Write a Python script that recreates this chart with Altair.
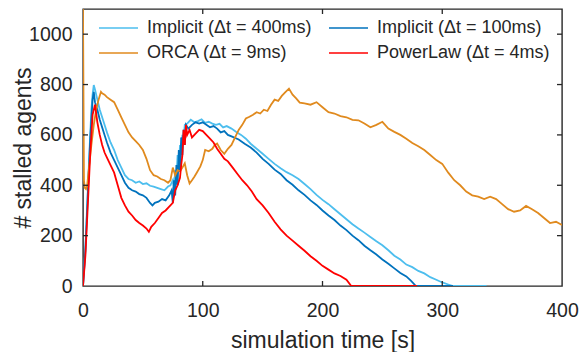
import altair as alt
import pandas as pd

# ---- data ----
series_names = ["Implicit (Δt = 400ms)", "Implicit (Δt = 100ms)", "ORCA (Δt = 9ms)", "PowerLaw (Δt = 4ms)"]
series_colors = ["#4DBEEE", "#0072BD", "#E08A1E", "#FF0000"]
# legend is filled column by column, so this order gives rows: 400/100, ORCA/PowerLaw
legend_order = [0, 2, 1, 3]

t_imp400 = [0, 2, 4, 6, 7, 8, 9, 10, 12, 14, 16, 18, 20, 23, 26, 29, 32, 35, 38, 41, 44, 47, 50, 53, 56, 59,
            62, 65, 68, 71, 73, 75, 76, 77, 78, 79, 80, 81, 82, 83, 84, 85, 87, 90, 93, 96, 99, 102, 105, 108,
            111, 114, 117, 120, 124, 128, 132, 136, 140, 145, 150, 155, 160, 165, 170, 175, 180, 185, 190, 195,
            200, 205, 210, 215, 220, 225, 230, 235, 240, 245, 250, 255, 260, 265, 270, 275, 280, 285, 290, 295,
            300, 305, 309, 337]
v_imp400 = [0, 150, 380, 600, 700, 760, 798, 780, 740, 700, 670, 640, 610, 570, 540, 500, 470, 440, 425, 420,
            410, 415, 405, 408, 398, 395, 390, 385, 380, 395, 400, 420, 380, 460, 430, 520, 470, 560, 510, 600,
            580, 640, 645, 660, 650, 655, 662, 648, 652, 645, 640, 644, 630, 635, 625, 612, 600, 585, 565, 545,
            525, 505, 485, 468, 452, 440, 425, 405, 385, 362, 342, 325, 305, 285, 265, 245, 228, 212, 195, 178,
            162, 142, 120, 105, 85, 75, 60, 50, 35, 25, 14, 6, 0, 0]

t_imp100 = [0, 2, 4, 6, 8, 9, 10, 12, 14, 16, 18, 20, 23, 26, 29, 32, 35, 38, 41, 44, 47, 50, 53, 56, 58, 60,
            63, 66, 69, 72, 74, 75, 76, 77, 78, 79, 80, 81, 82, 83, 84, 85, 86, 88, 91, 94, 97, 100, 103, 106,
            109, 112, 115, 118, 121, 125, 130, 135, 140, 145, 150, 155, 160, 165, 170, 175, 180, 185, 190, 195,
            200, 205, 210, 215, 220, 225, 230, 235, 240, 245, 250, 255, 260, 265, 270, 274, 278, 309]
v_imp100 = [0, 140, 360, 580, 740, 771, 730, 700, 660, 630, 600, 570, 530, 500, 470, 440, 410, 390, 380, 375,
            365, 360, 350, 330, 320, 330, 335, 345, 340, 360, 380, 330, 420, 360, 480, 400, 540, 460, 590, 520,
            620, 560, 640, 625, 640, 650, 645, 650, 640, 630, 635, 625, 610, 615, 600, 592, 582, 565, 550, 530,
            505, 485, 462, 445, 420, 402, 380, 362, 340, 322, 300, 280, 262, 240, 222, 200, 182, 160, 142, 125,
            105, 88, 70, 52, 38, 20, 0, 0]

t_orca = [0, 0.8, 1.5, 2.5, 3.5, 5, 7, 9, 11, 13, 15, 16, 18, 20, 23, 26, 29, 32, 35, 38, 41, 44, 47, 50, 53,
          56, 59, 62, 65, 68, 71, 73, 75, 77, 79, 81, 83, 85, 87, 89, 91, 93, 95, 98, 100, 102, 105, 108, 110,
          112, 115, 118, 121, 124, 127, 130, 133, 136, 139, 142, 145, 148, 151, 154, 157, 160, 163, 166, 169,
          172, 175, 178, 181, 185, 190, 195, 200, 205, 210, 215, 220, 225, 230, 235, 240, 245, 250, 255, 260,
          265, 270, 275, 280, 285, 290, 295, 300, 305, 310, 315, 320, 325, 330, 335, 340, 345, 350, 355, 360,
          365, 370, 375, 380, 385, 390, 395, 400]
v_orca = [1100, 420, 390, 385, 400, 470, 560, 640, 700, 740, 771, 765, 760, 750, 740, 730, 700, 670, 640, 610,
          590, 575, 560, 540, 505, 460, 440, 435, 425, 420, 410, 420, 470, 440, 460, 455, 470, 487, 440, 407,
          420, 434, 450, 475, 500, 540, 535, 545, 560, 566, 540, 525, 545, 560, 590, 620, 640, 665, 672, 680,
          690, 685, 700, 695, 720, 740, 735, 755, 770, 784, 760, 745, 728, 725, 720, 730, 710, 690, 685, 675,
          670, 660, 658, 645, 630, 640, 652, 625, 612, 600, 585, 568, 555, 540, 520, 500, 485, 450, 420, 400,
          375, 360, 355, 345, 355, 345, 325, 305, 295, 300, 318, 305, 290, 270, 250, 255, 242]

t_power = [0, 2, 4, 6, 8, 10, 12, 14, 16, 18, 20, 23, 26, 29, 32, 35, 38, 41, 44, 47, 50, 53, 55, 57, 60, 63,
           66, 69, 72, 75, 77, 79, 81, 82, 83, 84, 85, 86, 87, 89, 91, 94, 97, 100, 103, 106, 109, 112, 115,
           118, 121, 125, 129, 133, 137, 141, 145, 150, 155, 160, 165, 170, 175, 180, 185, 190, 195, 200, 205,
           210, 215, 220, 224, 279]
v_power = [0, 120, 320, 520, 680, 720, 650, 600, 560, 530, 510, 480, 450, 400, 350, 320, 295, 280, 262, 250,
           240, 228, 215, 235, 250, 270, 290, 300, 315, 330, 380, 400, 430, 480, 520, 620, 560, 640, 600, 620,
           590, 605, 620, 615, 600, 585, 570, 545, 525, 505, 495, 470, 445, 420, 400, 375, 345, 320, 290, 255,
           225, 200, 180, 160, 140, 118, 100, 80, 65, 50, 40, 25, 0, 0]

x_tick_values = [0, 100, 200, 300, 400]
y_tick_values = [0, 200, 400, 600, 800, 1000]
x_inner_ticks = [100, 200, 300]
y_inner_ticks = [200, 400, 600, 800, 1000]

frames = []
for name, ts, vs in zip(series_names, [t_imp400, t_imp100, t_orca, t_power],
                        [v_imp400, v_imp100, v_orca, v_power]):
    frames.append(pd.DataFrame({"t": ts, "v": vs, "series": name}))
df = pd.concat(frames, ignore_index=True)

W, H = 479, 277
AX = "#262626"
FONT = "Liberation Sans"

common_axis = dict(grid=False, domain=False, ticks=False, tickSize=0, format="d", labelFlush=False,
                   labelFont=FONT, labelFontSize=19.5, labelColor=AX,
                   titleFont=FONT, titleFontSize=23, titleColor=AX, titleFontWeight="normal",
                   titleBaseline="alphabetic")
xscale = alt.Scale(domain=[0, 400], nice=False, zero=False)
yscale = alt.Scale(domain=[0, 1100], nice=False, zero=False)
xaxis = alt.Axis(title="simulation time [s]", values=x_tick_values, labelPadding=15,
                 titleY=61, **common_axis)
yaxis = alt.Axis(title="# stalled agents", values=y_tick_values, labelPadding=11,
                 titleX=-53, titleY=H / 2, titleAngle=-90, **common_axis)

dom = [series_names[i] for i in legend_order]
rng = [series_colors[i] for i in legend_order]
color = alt.Color(
    "series:N",
    scale=alt.Scale(domain=dom, range=rng),
    sort=dom,
    legend=alt.Legend(
        title=None, orient="none", legendX=15, legendY=9, columns=2,
        symbolType="stroke", symbolSize=1521, symbolStrokeWidth=1.5,
        labelFontSize=18, labelFont=FONT, labelColor=AX, labelOffset=8, labelLimit=400,
        columnPadding=16, rowPadding=5, padding=0, clipHeight=20,
    ),
)

layers = []
for name in series_names:
    layers.append(
        alt.Chart(df).transform_filter(alt.datum.series == name)
        .mark_line(strokeWidth=1.8, clip=True)
        .encode(x=alt.X("t:Q", scale=xscale, axis=xaxis),
                y=alt.Y("v:Q", scale=yscale, axis=yaxis),
                color=color)
    )

xt = pd.DataFrame({"t": x_inner_ticks})
yt = pd.DataFrame({"v": y_inner_ticks})
tick_style = dict(color=AX, strokeWidth=1.3)
ticks = [
    alt.Chart(xt).mark_rule(**tick_style).encode(x=alt.X("t:Q", scale=xscale, axis=xaxis),
                                                 y=alt.value(H), y2=alt.value(H - 5)),
    alt.Chart(xt).mark_rule(**tick_style).encode(x=alt.X("t:Q", scale=xscale, axis=xaxis),
                                                 y=alt.value(0), y2=alt.value(5)),
    alt.Chart(yt).mark_rule(**tick_style).encode(y=alt.Y("v:Q", scale=yscale, axis=yaxis),
                                                 x=alt.value(0), x2=alt.value(5)),
    alt.Chart(yt).mark_rule(**tick_style).encode(y=alt.Y("v:Q", scale=yscale, axis=yaxis),
                                                 x=alt.value(W - 5), x2=alt.value(W)),
]

chart = alt.layer(*layers, *ticks).properties(
    width=W, height=H,
    padding={"left": 83, "top": 9, "right": 23, "bottom": 66},
    autosize=alt.AutoSizeParams(type="none"),
    background="white",
).configure_view(
    stroke=AX, strokeWidth=1.4
)

chart.save("out.html", embed_options={"renderer": "svg", "actions": False})
